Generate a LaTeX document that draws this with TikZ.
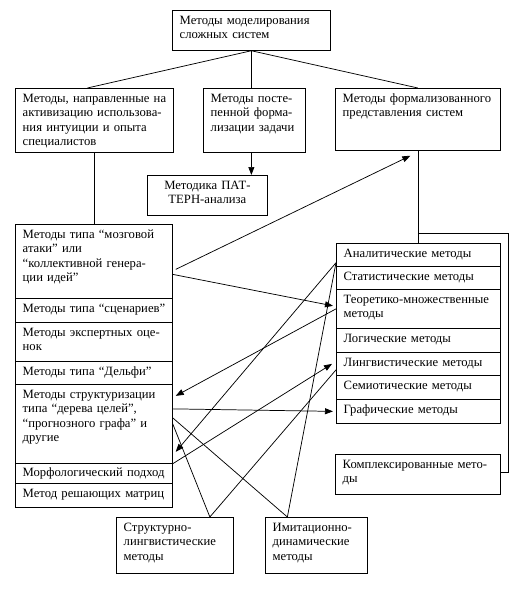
\documentclass[tikz,border=0pt]{standalone}
\usepackage{fontspec}
\setmainfont{Liberation Serif}
\usetikzlibrary{arrows.meta}

\tikzset{
	cell/.style={draw, anchor=north west, inner sep=0pt},
	celltext/.style={anchor=north west, align=left, text width=150pt, inner xsep=5.5pt, inner ysep=2.5pt,
		text height=8pt, font=\fontsize{9.5}{10.8}\selectfont},
}

\begin{document}
\begin{tikzpicture}[x=0.75pt, y=-0.75pt, line width=.55pt, >={Triangle[length=6pt,width=4.5pt]}]
	\useasboundingbox (0,0) rectangle (520,590);

	% upper levels
	\node[cell, minimum width=118.5pt, minimum height=30pt,
		label={[celltext]north west:Методы моделирования\\сложных систем}] (top) at (172,10) {};
	\node[cell, minimum width=118.5pt, minimum height=48pt,
		label={[celltext]north west:Методы, направленные на\\активизацию использова-\\ния интуиции и опыта\\специалистов}] (left) at (15,88) {};
	\node[cell, minimum width=76.5pt, minimum height=48pt,
		label={[celltext]north west:Методы посте-\\пенной форма-\\лизации задачи}] (middle) at (203,88) {};
	\node[cell, minimum width=123.75pt, minimum height=46.5pt,
		label={[celltext]north west:Методы формализованного\\представления систем}] (formal) at (335,88) {};
	\node[cell, minimum width=90pt, minimum height=30pt,
		label={[celltext, anchor=north, align=center, text width=79pt]north:Методика ПАТ-\\ТЕРН-анализа}] (pattern) at (147,175) {};

	% left stack
	\node[cell, minimum width=117.75pt, minimum height=55.5pt,
		label={[celltext]north west:Методы типа “мозговой\\атаки” или\\“коллективной генера-\\ции идей”}] (brain) at (15,224) {};
	\node[cell, minimum width=117.75pt, minimum height=18pt,
		label={[celltext]north west:Методы типа “сценариев”}] (scen) at (15,298) {};
	\node[cell, minimum width=117.75pt, minimum height=29.25pt,
		label={[celltext]north west:Методы экспертных оце-\\нок}] (expert) at (15,322) {};
	\node[cell, minimum width=117.75pt, minimum height=17.25pt,
		label={[celltext]north west:Методы типа “Дельфи”}] (delphi) at (15,361) {};
	\node[cell, minimum width=117.75pt, minimum height=59.25pt,
		label={[celltext]north west:Методы структуризации\\типа “дерева целей”,\\“прогнозного графа” и\\другие}] (struct) at (15,384) {};
	\node[cell, minimum width=117.75pt, minimum height=15pt,
		label={[celltext, inner ysep=1.5pt]north west:Морфологический подход}] (morph) at (15,463) {};
	\node[cell, minimum width=117.75pt, minimum height=18pt,
		label={[celltext]north west:Метод решающих матриц}] (matr) at (15,483) {};

	% right stack
	\node[cell, minimum width=123pt, minimum height=17.25pt,
		label={[celltext]north west:Аналитические методы}] (anal) at (336,243) {};
	\node[cell, minimum width=123pt, minimum height=17.25pt,
		label={[celltext]north west:Статистические методы}] (stat) at (336,266) {};
	\node[cell, minimum width=123pt, minimum height=29.25pt,
		label={[celltext]north west:Теоретико-множественные\\методы}] (teor) at (336,289) {};
	\node[cell, minimum width=123pt, minimum height=18pt,
		label={[celltext]north west:Логические методы}] (logic) at (336,328) {};
	\node[cell, minimum width=123pt, minimum height=17.25pt,
		label={[celltext]north west:Лингвистические методы}] (ling) at (336,352) {};
	\node[cell, minimum width=123pt, minimum height=18pt,
		label={[celltext]north west:Семиотические методы}] (semi) at (336,375) {};
	\node[cell, minimum width=123pt, minimum height=18pt,
		label={[celltext]north west:Графические методы}] (graph) at (336,399) {};
	\node[cell, minimum width=123.75pt, minimum height=30pt,
		label={[celltext]north west:Комплексированные мето-\\ды}] (kompl) at (335,454) {};

	% bottom
	\node[cell, minimum width=87.75pt, minimum height=42pt,
		label={[celltext]north west:Структурно-\\лингвистические\\методы}] (strling) at (116,517) {};
	\node[cell, minimum width=76.5pt, minimum height=42pt,
		label={[celltext]north west:Имитационно-\\динамические\\методы}] (imit) at (265,517) {};
	\coordinate (strlingTop) at ([shift={(35,0)}]strling.north);
	\coordinate (imitTop) at ([shift={(-29,0)}]imit.north);

	% tree
	\draw (top.south) -- ([shift={(-7,0)}]left.north);
	\draw (top.south) -- (top.south |- middle.north);
	\draw (top.south) -- (formal.north);
	\draw[->] (top.south |- middle.south) -- (top.south |- pattern.north);
	\draw (left.south) -- (left.south |- brain.north);
	\draw (formal.south) -- (formal.south |- anal.north);
	\draw (formal.south |- 0,233) -| (508,472) -- (kompl.east |- 0,472);

	% links
	\draw[->] ([shift={(3,8)}]brain.east) -- ([shift={(-7.5,5)}]formal.south);
	\draw[->] ([shift={(0,13)}]brain.east) -- ([shift={(-3,-3)}]teor.west);
	\draw[->] (teor.west) -- ([shift={(3,-28)}]struct.east);
	\draw[->] ([shift={(0,-4)}]anal.south west) -- ([shift={(3,28)}]struct.east);
	\draw[->] ([shift={(0,-15)}]struct.east) -- ([shift={(-3,0)}]graph.west);
	\draw[->] (struct.south east) -- ([shift={(-4,0)}]ling.west);
	\draw ([shift={(0,-6)}]struct.east) -- (imitTop);
	\draw (struct.east) -- (strlingTop);
	\draw (strlingTop) -- ([shift={(0,6)}]ling.west);
	\draw (imitTop) -- ([shift={(0,-4)}]anal.south west);

\end{tikzpicture}
\end{document}
